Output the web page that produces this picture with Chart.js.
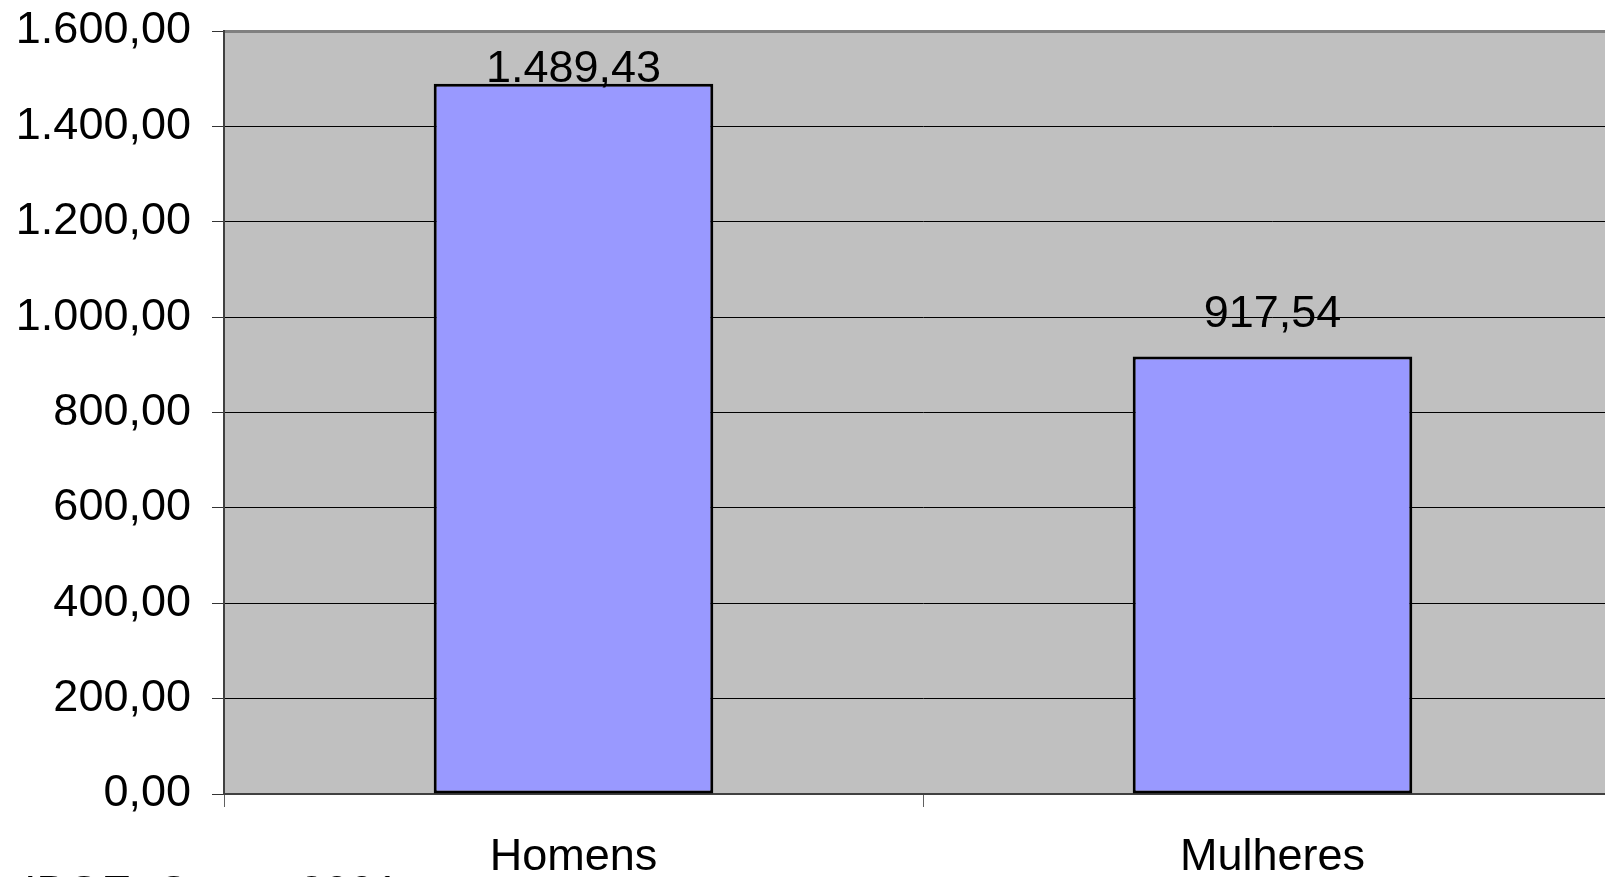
<!DOCTYPE html>
<html>
<head>
<meta charset="utf-8">
<script src="https://cdn.jsdelivr.net/npm/chart.js@4/dist/chart.umd.min.js"></script>
<style>
  html, body { margin: 0; padding: 0; background: #fff; overflow: hidden; width: 1605px; height: 877px; }
  #wrap { position: absolute; left: 0; top: 0; width: 1640px; height: 920px; }
  #fonte {
    position: absolute; left: 24px; top: 869px;
    font: 45px/45px "Liberation Sans", Arial, sans-serif; color: #000; white-space: nowrap;
  }
</style>
</head>
<body>
<div id="wrap"><canvas id="chart" width="1640" height="920"></canvas></div>
<div id="fonte">IBGE: Censo 2001</div>
<script>
const categories = ['Homens', 'Mulheres'];
const rendimento = [1489.43, 917.54];
const yMin = 0, yMax = 1600, yStep = 200;

const FONT = '"Liberation Sans", Arial, sans-serif';

// 1600 -> "1.600,00"
function formatBR(v) {
  const parts = v.toFixed(2).split('.');
  parts[0] = parts[0].replace(/\B(?=(\d{3})+(?!\d))/g, '.');
  return parts.join(',');
}

// fundo cinza da área de plotagem
const plotBg = {
  id: 'plotBg',
  beforeDraw(chart) {
    const { ctx, chartArea: a } = chart;
    ctx.save();
    ctx.fillStyle = '#C0C0C0';
    ctx.fillRect(a.left, a.top, a.right - a.left, a.bottom - a.top);
    ctx.restore();
  }
};

// rótulos de valor sobre as barras
const valueLabels = {
  id: 'valueLabels',
  afterDatasetsDraw(chart) {
    const { ctx, chartArea } = chart;
    const meta = chart.getDatasetMeta(0);
    ctx.save();
    ctx.font = '45px ' + FONT;
    ctx.fillStyle = '#000';
    ctx.textAlign = 'center';
    ctx.textBaseline = 'alphabetic';
    meta.data.forEach((bar, i) => {
      const y = Math.max(bar.y - 29, chartArea.top + 51);
      ctx.fillText(formatBR(rendimento[i]), bar.x, y);
    });
    ctx.restore();
  }
};

const ctx = document.getElementById('chart').getContext('2d');
new Chart(ctx, {
  type: 'bar',
  data: {
    labels: categories,
    datasets: [{
      data: rendimento,
      backgroundColor: '#9999FF',
      borderColor: '#000',
      borderWidth: 3,
      borderSkipped: false,
      barPercentage: 0.8,
      categoryPercentage: 0.5
    }]
  },
  options: {
    responsive: false,
    animation: false,
    layout: { padding: { top: 31, right: 18, left: 0, bottom: 0 } },
    plugins: {
      legend: { display: false },
      tooltip: { enabled: false }
    },
    scales: {
      x: {
        afterFit(scale) { scale.height = 126; },
        grid: {
          offset: true,
          drawOnChartArea: false,
          tickLength: 13,
          tickColor: '#606060'
        },
        border: { color: '#404040', width: 2 },
        ticks: { color: '#000', padding: 24, font: { family: FONT, size: 45 } }
      },
      y: {
        min: yMin,
        max: yMax,
        afterFit(scale) {
          scale.width = 224;
          scale.paddingTop = 0;
          scale.paddingBottom = 0;
        },
        grid: {
          color: c => c.tick && c.tick.value === yMax ? '#808080' : '#000',
          lineWidth: c => c.tick && c.tick.value === yMax ? 3 : 1,
          tickLength: 12,
          tickColor: '#333',
          tickWidth: 1
        },
        border: { color: '#404040', width: 2 },
        ticks: {
          stepSize: yStep,
          color: '#000',
          padding: 21,
          font: { family: FONT, size: 45 },
          callback: v => formatBR(v)
        }
      }
    }
  },
  plugins: [plotBg, valueLabels]
});
</script>
</body>
</html>
